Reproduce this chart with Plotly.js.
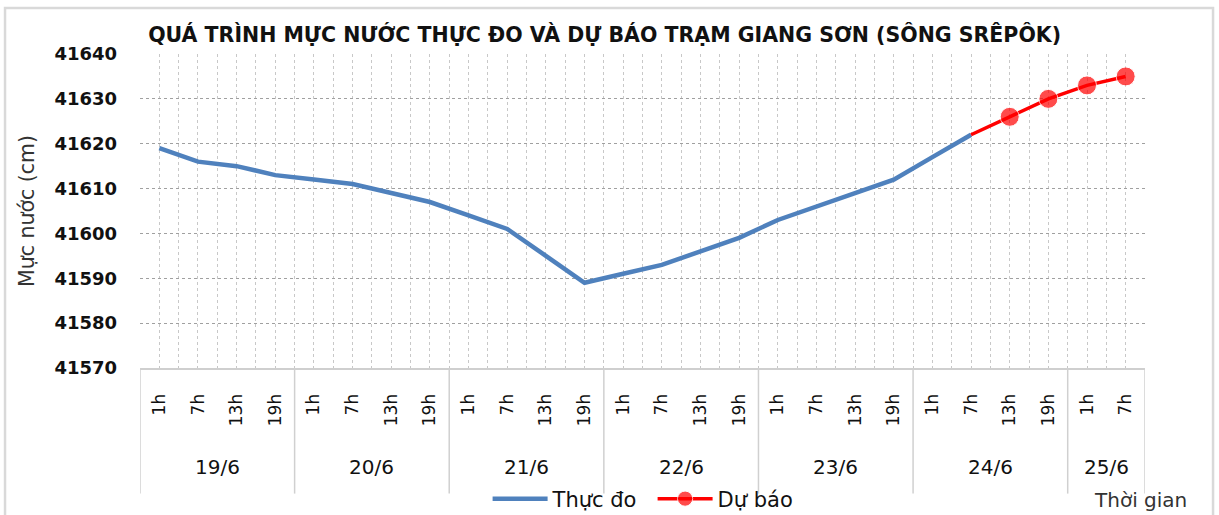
<!DOCTYPE html>
<html>
<head>
<meta charset="utf-8">
<script src="https://cdn.plot.ly/plotly-3.0.1.min.js"></script>
<style>
  html, body { margin: 0; padding: 0; background: #ffffff; }
  #chart { width: 1219px; height: 515px; }
</style>
</head>
<body>
<div id="chart"></div>
<script>
// ---- Data ----
const days = ['19/6', '20/6', '21/6', '22/6', '23/6', '24/6', '25/6'];
const dayCounts = [4, 4, 4, 4, 4, 4, 2];
const hours = ['1h', '7h', '13h', '19h', '1h', '7h', '13h', '19h', '1h', '7h', '13h', '19h',
               '1h', '7h', '13h', '19h', '1h', '7h', '13h', '19h', '1h', '7h', '13h', '19h',
               '1h', '7h'];
// Observed water level (cm), 19/6 1h .. 24/6 7h
const observed = [41619, 41616, 41615, 41613, 41612, 41611, 41609, 41607, 41604, 41601, 41595, 41589,
                  41591, 41593, 41596, 41599, 41603, 41606, 41609, 41612, 41617, 41622];
// Forecast water level (cm), 24/6 7h .. 25/6 7h
const forecast = [41622, 41626, 41630, 41633, 41635];
const forecastStart = observed.length - 1;

const titleText = 'QUÁ TRÌNH MỰC NƯỚC THỰC ĐO VÀ DỰ BÁO TRẠM GIANG SƠN (SÔNG SRÊPÔK)';
const yTitle = 'Mực nước (cm)';
const xTitle = 'Thời gian';
const seriesNames = ['Thực đo', 'Dự báo'];

// ---- Build ----
const FONT = 'DejaVu Sans';
const idx = hours.map((_, i) => i);
const obsX = observed.map((_, i) => i);
const fcX = forecast.map((_, i) => forecastStart + i);
const fcSizes = forecast.map((_, i) => (i === 0 ? 0 : 19));

const traces = [
  {
    x: obsX, y: observed, name: seriesNames[0], type: 'scatter', mode: 'lines',
    line: { color: '#4F81BD', width: 4.5 }
  },
  {
    x: fcX, y: forecast, name: seriesNames[1], type: 'scatter', mode: 'lines+markers',
    line: { color: '#FF0000', width: 3.5 },
    marker: { color: '#FF0000', size: fcSizes }
  }
];

const shapes = [];
const annotations = [];
let start = 0;
days.forEach((d, k) => {
  const n = dayCounts[k];
  shapes.push({ type: 'line', xref: 'x', yref: 'paper', x0: start - 0.5, x1: start - 0.5,
                y0: 0, y1: -0.4, line: { color: '#d0d0d0', width: 1.5 } });
  annotations.push({ xref: 'x', yref: 'paper', x: start + (n - 1) / 2, y: -0.315,
                     text: d, showarrow: false, xanchor: 'center', yanchor: 'middle',
                     font: { family: FONT, size: 20, color: '#111' } });
  start += n;
});
shapes.push({ type: 'line', xref: 'x', yref: 'paper', x0: start - 0.5, x1: start - 0.5,
              y0: 0, y1: -0.4, line: { color: '#d0d0d0', width: 1.5 } });
// outer chart border
shapes.push({ type: 'rect', xref: 'paper', yref: 'paper', x0: -0.1343, x1: 1.0677, y0: -0.52, y1: 1.1465,
              line: { color: '#d9d9d9', width: 2.5 }, fillcolor: 'rgba(0,0,0,0)', layer: 'below' });

annotations.push({ xref: 'paper', yref: 'paper', x: 0.996, y: -0.42, text: xTitle, showarrow: false,
                   xanchor: 'center', yanchor: 'middle', font: { family: FONT, size: 20, color: '#333' } });

const layout = {
  width: 1219, height: 515,
  margin: { l: 140, r: 74, t: 54, b: 147 },
  paper_bgcolor: '#ffffff', plot_bgcolor: '#ffffff',
  showlegend: true,
  title: { text: titleText, x: 0.496, xanchor: 'center', y: 0.932, yanchor: 'middle', yref: 'container',
           font: { family: FONT, size: 20.5, weight: 'bold', color: '#111' } },
  xaxis: {
    range: [-0.5, hours.length - 0.5], tickmode: 'array', tickvals: idx, ticktext: hours,
    tickangle: -90, ticks: '', ticklabelstandoff: 17, automargin: false,
    tickfont: { family: FONT, size: 17, color: '#111' },
    showgrid: true, gridcolor: '#c8c8c8', griddash: 'dot', gridwidth: 1,
    minor: { tick0: -0.5, dtick: 1, showgrid: true, gridcolor: '#c8c8c8', griddash: 'dot', gridwidth: 1 },
    showline: true, linecolor: '#cfcfcf', linewidth: 2, zeroline: false, fixedrange: true
  },
  yaxis: {
    range: [41570, 41640], dtick: 10, tick0: 41570, tickformat: 'd', ticks: '', ticklabelstandoff: 22,
    automargin: false,
    tickfont: { family: FONT, size: 18, weight: 'bold', color: '#111' },
    showgrid: true, gridcolor: '#a0a0a0', griddash: 'dot', gridwidth: 1,
    zeroline: false, showline: false,
    title: { text: yTitle, standoff: 14, font: { family: FONT, size: 20.5, color: '#333' } },
    fixedrange: true
  },
  legend: { orientation: 'h', xref: 'container', yref: 'container', x: 0.4, xanchor: 'left',
            y: 1 - 499 / 515, yanchor: 'middle', itemwidth: 55, entrywidth: 95,
            font: { family: FONT, size: 21, color: '#111' }, bgcolor: 'rgba(0,0,0,0)' },
  shapes: shapes,
  annotations: annotations
};

Plotly.newPlot('chart', traces, layout, { displayModeBar: false, staticPlot: true });
</script>
</body>
</html>
